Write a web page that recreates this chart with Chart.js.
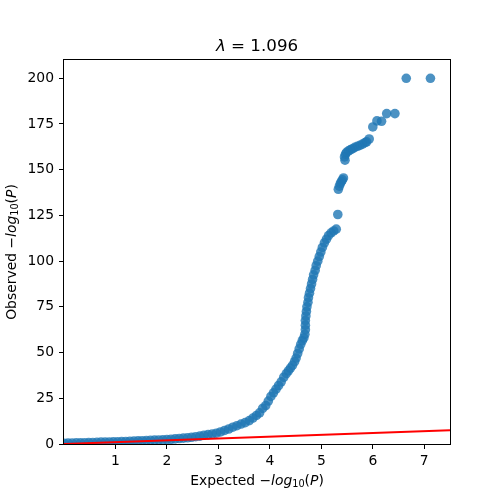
<!DOCTYPE html>
<html>
<head>
<meta charset="utf-8">
<script src="https://cdn.jsdelivr.net/npm/chart.js@4/dist/chart.umd.min.js"></script>
<style>
  body { margin: 0; background: #fff; }
  #wrap { width: 500px; height: 500px; }
</style>
</head>
<body>
<div id="wrap"><canvas id="qqPlot" width="500" height="500"></canvas></div>
<script>
// QQ plot data (expected vs observed -log10 p)
var expected = [
	0.00, 0.08, 0.16, 0.24, 0.32, 0.40, 0.48, 0.56, 0.64, 0.72, 0.80, 0.88, 0.96, 1.04, 1.12, 1.20,
	1.28, 1.36, 1.44, 1.52, 1.60, 1.68, 1.76, 1.84, 1.92, 2.00, 2.08, 2.16, 2.24, 2.32, 2.40, 2.48,
	2.56, 2.64, 2.72, 2.80, 2.88, 2.96, 3.04, 3.12, 3.20, 3.28, 3.36, 3.44, 3.52, 3.60, 3.67, 3.74,
	3.80, 3.86, 3.92, 3.97, 4.02, 4.07, 4.12, 4.17, 4.22, 4.27, 4.32, 4.36, 4.40, 4.44, 4.48, 4.51,
	4.54, 4.57, 4.60, 4.63, 4.66, 4.68, 4.69, 4.69, 4.69, 4.70, 4.71, 4.72, 4.74, 4.75, 4.77, 4.79,
	4.81, 4.83, 4.85, 4.88, 4.90, 4.93, 4.96, 4.99, 5.02, 5.06, 5.10, 5.14, 5.19, 5.24, 5.29,
	5.32, 5.33, 5.35, 5.37, 5.39, 5.41, 5.43, 5.46, 5.45, 5.47, 5.49, 5.53, 5.57, 5.61, 5.65, 5.70,
	5.75, 5.80, 5.85, 5.88, 5.93, 6.00, 6.08, 6.17, 6.27, 6.43, 6.65, 7.12
];
var observed = [
	0.4, 0.5, 0.5, 0.6, 0.6, 0.7, 0.8, 0.8, 0.9, 1.0, 1.0, 1.1, 1.2, 1.2, 1.3, 1.4,
	1.5, 1.6, 1.7, 1.8, 1.9, 2.0, 2.1, 2.2, 2.3, 2.5, 2.6, 2.8, 3.0, 3.2, 3.4, 3.7,
	4.0, 4.3, 4.8, 5.1, 5.5, 5.9, 6.6, 7.4, 8.2, 9.2, 10.0, 10.9, 11.7, 12.8, 14.2, 15.6,
	17.0, 19.5, 21.0, 23.5, 26.0, 28.0, 30.0, 32.0, 34.0, 36.5, 38.5, 40.0, 41.5, 43.0, 45.0, 47.0,
	49.5, 52.0, 54.5, 56.5, 58.0, 60.0, 62.5, 65.0, 67.5, 70.0, 72.5, 75.0, 77.5, 80.0, 82.5, 85.0,
	87.5, 90.0, 92.5, 95.0, 97.5, 100.0, 102.5, 105.0, 107.5, 110.0, 112.0, 114.0, 115.5, 116.5, 117.5,
	125.5, 139.3, 141.0, 142.5, 143.5, 144.5, 145.5, 155.2, 157.0, 158.5, 159.5, 160.3, 161.0, 161.5, 162.2, 162.8,
	163.3, 164.0, 164.8, 165.2, 166.8, 173.4, 176.7, 176.5, 180.7, 180.7, 200.0, 200.0
];
// expected == observed reference line
var lineX = [0, 7.5];
var lineY = [0, 7.5];

var xTicks = [1, 2, 3, 4, 5, 6, 7];
var yTicks = [0, 25, 50, 75, 100, 125, 150, 175, 200];
var lambdaValue = '1.096';

var FONT = 'DejaVu Sans';

// draw a label made of plain / italic / subscript pieces, centred on (cx, cy)
function drawRuns(ctx, runs, cx, cy, size) {
	var w = 0;
	runs.forEach(function(r) {
		r.size = r.sub ? size * 0.7 : size;
		ctx.font = (r.it ? 'italic ' : '') + r.size + 'px "' + FONT + '"';
		r.w = ctx.measureText(r.t).width;
		w += r.w;
	});
	var x = cx - w / 2;
	ctx.textBaseline = 'middle';
	ctx.textAlign = 'left';
	runs.forEach(function(r) {
		ctx.font = (r.it ? 'italic ' : '') + r.size + 'px "' + FONT + '"';
		ctx.fillText(r.t, x, cy + (r.sub ? size * 0.25 : 0));
		x += r.w;
	});
}

function logLabel(word) {
	return [
		{t: word + ' '}, {t: '\u2212'}, {t: 'log', it: true}, {t: '10', sub: true},
		{t: '('}, {t: 'P', it: true}, {t: ')'}
	];
}

var frameAndLabels = {
	id: 'frameAndLabels',
	afterDraw: function(chart) {
		var ctx = chart.ctx, a = chart.chartArea;
		ctx.save();
		ctx.strokeStyle = '#000';
		ctx.lineWidth = 1;
		var l = Math.round(a.left) - 0.5, t = Math.round(a.top) - 0.5;
		var r = Math.round(a.right) + 0.5, b = Math.round(a.bottom) + 0.5;
		ctx.strokeRect(l, t, r - l, b - t);
		ctx.fillStyle = '#000';
		var cx = (a.left + a.right) / 2;
		// title
		drawRuns(ctx, [{t: '\u03bb', it: true}, {t: ' = ' + lambdaValue}], cx, 47, 16.7);
		// x label
		drawRuns(ctx, logLabel('Expected'), cx, 481, 13.9);
		// y label
		ctx.translate(12, (a.top + a.bottom) / 2);
		ctx.rotate(-Math.PI / 2);
		drawRuns(ctx, logLabel('Observed'), 0, 0, 13.9);
		ctx.restore();
	}
};

var points = expected.map(function(x, i) { return {x: x, y: observed[i]}; });
var refLine = lineX.map(function(x, i) { return {x: x, y: lineY[i]}; });

var ctx = document.getElementById('qqPlot');
var qqChart = new Chart(ctx, {
	type: 'scatter',
	data: {
		datasets: [{
			type: 'line',
			data: refLine,
			borderColor: '#ff0000',
			borderWidth: 2,
			pointRadius: 0,
			order: 0,
			clip: 0
		}, {
			data: points,
			backgroundColor: 'rgba(31, 119, 180, 0.8)',
			borderWidth: 0,
			pointRadius: 4.8,
			order: 1,
			clip: 0
		}]
	},
	options: {
		responsive: false,
		animation: false,
		layout: { padding: { top: 60, right: 50, left: 0, bottom: 0 } },
		plugins: {
			legend: { display: false },
			tooltip: { enabled: false },
			title: { display: false }
		},
		scales: {
			x: {
				type: 'linear',
				min: 0,
				max: 7.5,
				afterBuildTicks: function(s) { s.ticks = xTicks.map(function(v) { return {value: v}; }); },
				afterFit: function(s) { s.height = 56; },
				grid: { drawOnChartArea: false, tickLength: 5, color: '#000' },
				border: { display: false },
				ticks: { color: '#000', padding: 4, maxRotation: 0, font: { family: FONT, size: 13.9 } }
			},
			y: {
				type: 'linear',
				min: 0,
				max: 210,
				afterBuildTicks: function(s) { s.ticks = yTicks.map(function(v) { return {value: v}; }); },
				afterFit: function(s) { s.width = 64; },
				grid: { drawOnChartArea: false, tickLength: 5, color: '#000' },
				border: { display: false },
				ticks: { color: '#000', padding: 5, font: { family: FONT, size: 13.9 } }
			}
		}
	},
	plugins: [frameAndLabels]
});
</script>
</body>
</html>
